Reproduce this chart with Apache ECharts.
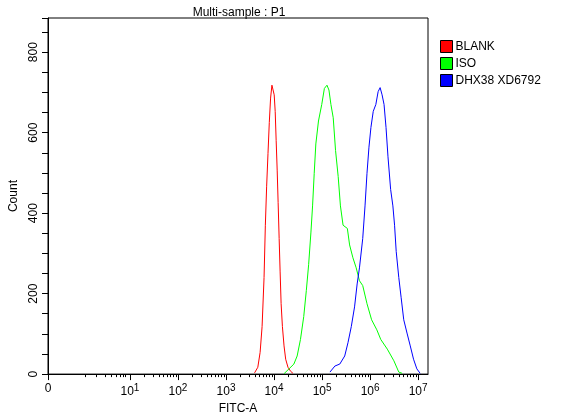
<!DOCTYPE html>
<html><head><meta charset="utf-8">
<script src="https://cdn.jsdelivr.net/npm/echarts@6/dist/echarts.min.js"></script>
<style>html,body{margin:0;padding:0;background:#fff}#c{width:566px;height:420px}</style>
</head><body><div id="c"></div>
<script>
// x values are in decade units (log10 of FITC-A); 0 label sits at -0.706
const blankX=[3.594,3.662,3.710,3.751,3.792,3.819,3.846,3.874,3.901,3.928,3.956,3.983,4.003,4.024,4.044,4.065,4.085,4.106,4.126,4.147,4.174,4.208,4.242,4.290,4.345,4.393];
const blankY=[3,17,54,118,240,370,467,548,625,686,718,720,694,653,580,507,426,337,256,175,118,70,37,17,7,2];
const isoX=[4.208,4.311,4.413,4.481,4.550,4.618,4.672,4.720,4.768,4.802,4.836,4.870,4.925,4.993,5.048,5.102,5.143,5.184,5.232,5.280,5.335,5.382,5.437,5.526,5.573,5.642,5.710,5.778,5.846,5.935,6.031,6.140,6.222,6.358,6.495,6.597,6.666];
const isoY=[1,13,25,45,86,143,208,272,353,418,499,572,629,670,710,718,706,670,637,556,491,418,370,362,321,289,264,232,220,175,135,110,86,62,33,5,2];
const dhxX=[5.164,5.266,5.369,5.471,5.539,5.608,5.676,5.730,5.778,5.846,5.894,5.935,5.976,6.017,6.065,6.119,6.167,6.208,6.249,6.290,6.331,6.372,6.427,6.474,6.509,6.543,6.597,6.645,6.700,6.768,6.836,6.904,6.973,7.041];
const dhxY=[5,20,25,45,78,118,167,224,264,337,418,499,564,613,653,670,702,712,694,670,613,540,459,418,370,305,240,191,135,102,70,37,13,2];
const names=['BLANK','ISO','DHX38 XD6792'];
const colors=['#ff0000','#00ff00','#0000ff'];
const majorTicks=[-0.706,1,2,3,4,5,6,7];
const linTicks=[0.064,0.304,0.488,0.611,0.707,0.795,0.863,0.912];
const minorTicks=linTicks.slice();
for(let n=1;n<7;n++)for(let k=2;k<=9;k++)minorTicks.push(n+Math.log10(k));
const zip=(a,b)=>a.map((v,i)=>[v,b[i]]);
const font='Liberation Sans';
const xs=[[blankX,blankY],[isoX,isoY],[dhxX,dhxY]];
const chart=echarts.init(document.getElementById('c'));
chart.setOption({
  animation:false,
  textStyle:{fontFamily:font},
  title:{text:'Multi-sample : P1',left:234,top:2,textAlign:'center',textStyle:{fontSize:12,fontWeight:'normal',color:'#000',fontFamily:font}},
  legend:{orient:'vertical',left:440,top:40,padding:0,itemWidth:12,itemHeight:12,itemGap:4,icon:'rect',
    textStyle:{fontSize:12,color:'#000',fontFamily:font,padding:[0,0,0,-2]},
    data:names.map((n,i)=>({name:n,itemStyle:{color:colors[i],borderColor:'#000',borderWidth:1}}))},
  grid:{left:41,right:138,top:18,bottom:38,show:true,borderColor:'#000',borderWidth:1},
  xAxis:[{type:'value',min:-0.706,max:7.205,name:'FITC-A',nameLocation:'middle',nameGap:24,
    nameTextStyle:{fontSize:12,color:'#000',fontFamily:font},
    axisLine:{onZero:false,lineStyle:{color:'#000'}},splitLine:{show:false},
    axisTick:{customValues:majorTicks,length:6,lineStyle:{color:'#000'}},
    axisLabel:{customValues:majorTicks,color:'#000',fontSize:12,margin:9,
      formatter:v=>v<0?'0':'10{s|'+Math.round(v)+'}',
      rich:{s:{fontSize:10,verticalAlign:'top',padding:[0,0,8,0],color:'#000'}}}},
   {type:'value',min:-0.706,max:7.205,position:'bottom',show:true,
    axisLine:{show:false,onZero:false},splitLine:{show:false},axisLabel:{show:false},
    axisTick:{customValues:minorTicks,length:3,lineStyle:{color:'#000'}}}],
  yAxis:{type:'value',min:0,max:885,interval:200,name:'Count',nameLocation:'middle',nameGap:28,
    nameTextStyle:{fontSize:12,color:'#000',fontFamily:font},
    axisLine:{show:true,onZero:false,lineStyle:{color:'#000'}},splitLine:{show:false},
    axisTick:{show:true,length:6,lineStyle:{color:'#000'}},
    minorTick:{show:true,splitNumber:4,length:6,lineStyle:{color:'#000'}},
    axisLabel:{rotate:90,color:'#000',fontSize:12,margin:8,showMaxLabel:false,
      formatter:v=>v%200===0?String(v):''}},
  series:xs.map((d,i)=>({name:names[i],type:'line',showSymbol:false,symbol:'none',
    data:zip(d[0],d[1]),lineStyle:{color:colors[i],width:1},itemStyle:{color:colors[i]}}))
});
</script></body></html>
